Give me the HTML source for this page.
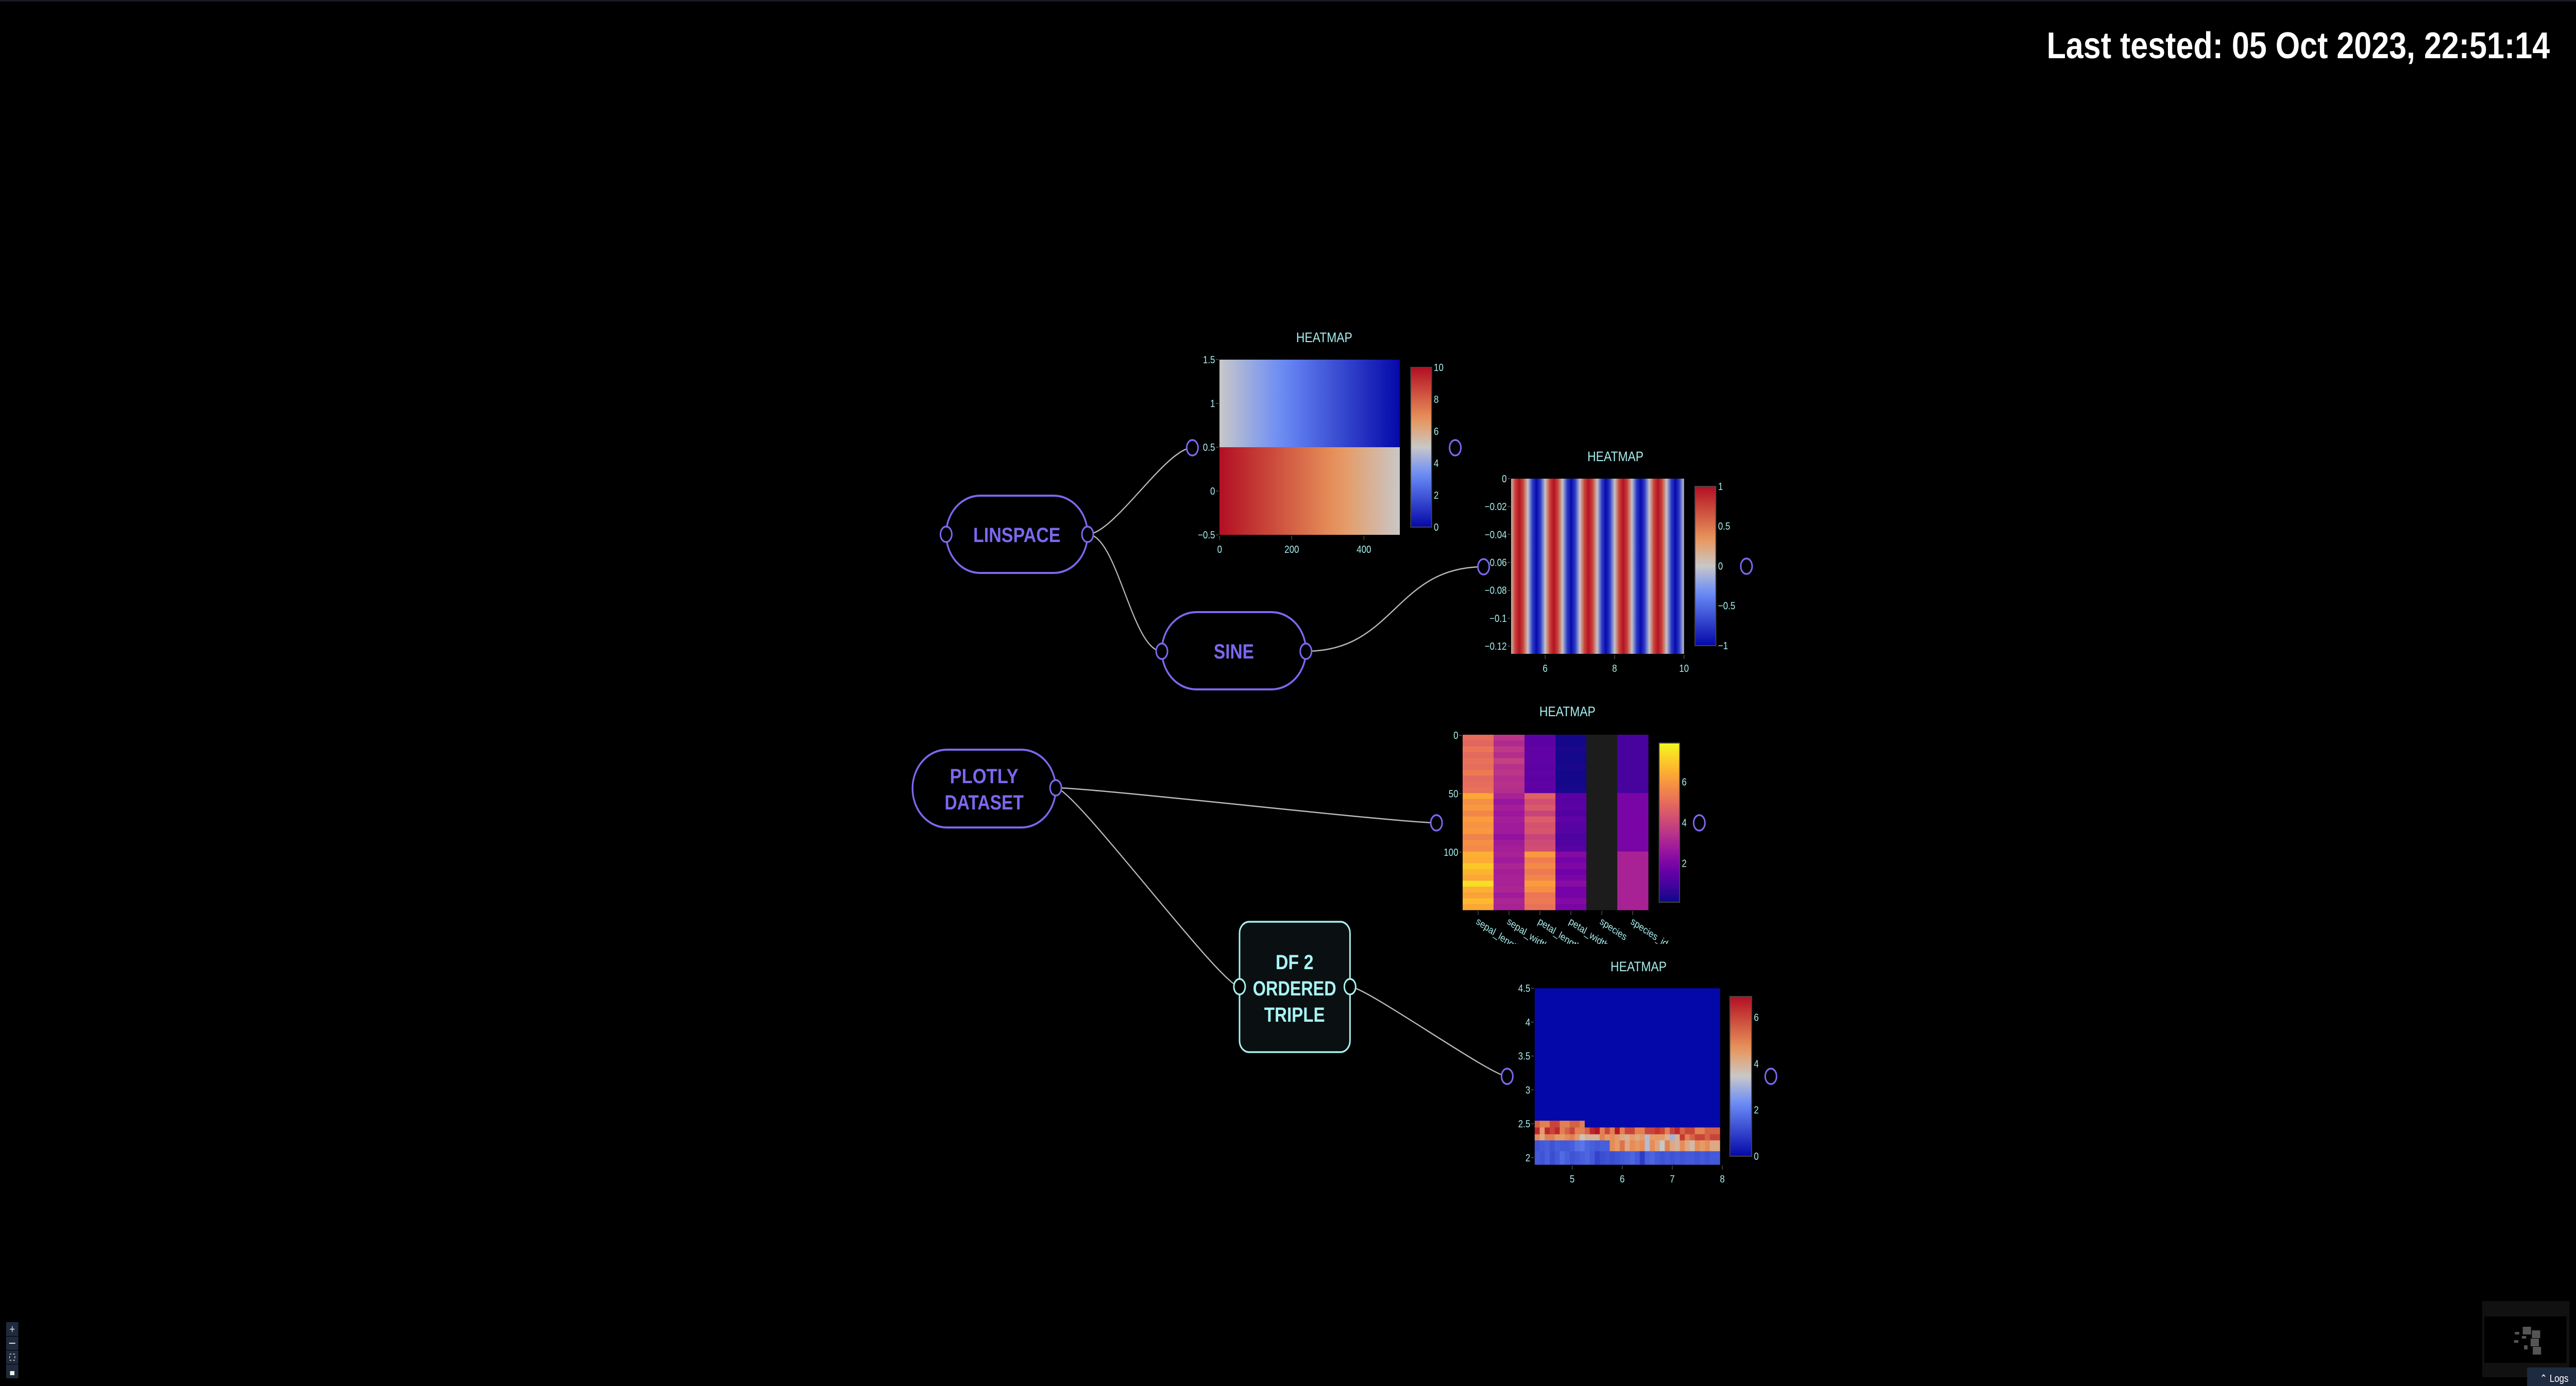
<!DOCTYPE html>
<html><head><meta charset="utf-8"><title>Flow canvas with heatmaps</title>
<style>
html,body{margin:0;padding:0;background:#000;width:100%;height:100%;overflow:hidden}
svg{display:block;position:fixed;left:0;top:0;width:100vw;height:100vh}
.tick{font-family:"Liberation Sans Narrow","Liberation Sans",sans-serif;font-size:20px;fill:#a8eef0}
.ttl{font-family:"Liberation Sans Narrow","Liberation Sans",sans-serif;font-size:27px;fill:#a8eef0}
.node{font-family:"Liberation Sans",sans-serif;font-weight:bold;font-size:40px}
</style></head>
<body>
<svg id="root" viewBox="0 0 5900 2690" preserveAspectRatio="none" xmlns="http://www.w3.org/2000/svg">
<rect x="0" y="0" width="5900" height="2690" fill="#000"/>
<rect x="0" y="0" width="5900" height="3" fill="#1a1a22"/>
<defs id="defs"></defs>
<g id="edges"></g>
<g id="plots"></g>
<g id="nodes"></g>
<text x="5840" y="113" text-anchor="end" font-family="Liberation Sans, sans-serif" font-weight="bold" font-size="72" fill="#fff">Last tested: 05 Oct 2023, 22:51:14</text>
<g>
<rect x="14" y="2566" width="28" height="27" fill="#1f2a3c"/>
<text x="28" y="2587" text-anchor="middle" font-family="Liberation Sans, sans-serif" font-size="22" fill="#ddd">+</text>
<rect x="14" y="2594" width="28" height="26" fill="#1f2a3c"/>
<rect x="21" y="2606" width="14" height="2" fill="#ddd"/>
<rect x="14" y="2621" width="28" height="26" fill="#1f2a3c"/>
<rect x="22" y="2628" width="12" height="12" fill="none" stroke="#ddd" stroke-width="1.5" stroke-dasharray="4 4"/>
<rect x="14" y="2648" width="28" height="27" fill="#1f2a3c"/>
<rect x="23" y="2661" width="10" height="8" fill="#eee"/>
</g>
<g>
<rect x="5685" y="2525" width="200" height="148" fill="#111"/>
<rect x="5690" y="2555" width="188" height="90" fill="#000"/>
<rect x="5778" y="2575" width="19" height="15" fill="#555"/>
<rect x="5799" y="2582" width="19" height="15" fill="#555"/>
<rect x="5796" y="2598" width="19" height="15" fill="#555"/>
<rect x="5801" y="2614" width="19" height="15" fill="#555"/>
<rect x="5760" y="2585" width="10" height="5" fill="#555"/>
<rect x="5776" y="2593" width="10" height="5" fill="#555"/>
<rect x="5758" y="2601" width="10" height="5" fill="#555"/>
<rect x="5781" y="2611" width="8" height="8" fill="#555"/>
</g>
<rect x="5788" y="2654" width="112" height="36" fill="#1e2a3f"/>
<text x="5850" y="2682" text-anchor="middle" font-family="Liberation Sans, sans-serif" font-size="20" fill="#fff">⌃ Logs</text>
</svg>
<script>
// ---------- chart data ----------
const hm1X = [0,50,100,150,200,250,300,350,400,450,500];
const hm1RowY = [0,1];
const hm1Row0 = [10,9.5,9,8.5,8,7.5,7,6.5,6,5.5,5];
const hm1Row1 = [5,4.5,4,3.5,3,2.5,2,1.5,1,0.5,0];
const hm1XTicks = [0,200,400];
const hm1YTicks = [-0.5,0,0.5,1,1.5];
const hm1CbTicks = [0,2,4,6,8,10];

const hm2X = [5,5.125,5.25,5.375,5.5,5.625,5.75,5.875,6,6.125,6.25,6.375,6.5,6.625,6.75,6.875,7,7.125,7.25,7.375,7.5,7.625,7.75,7.875,8,8.125,8.25,8.375,8.5,8.625,8.75,8.875,9,9.125,9.25,9.375,9.5,9.625,9.75,9.875,10];
const hm2Z = [0,0.71,1,0.71,0,-0.71,-1,-0.71,0,0.71,1,0.71,0,-0.71,-1,-0.71,0,0.71,1,0.71,0,-0.71,-1,-0.71,0,0.71,1,0.71,0,-0.71,-1,-0.71,0,0.71,1,0.71,0,-0.71,-1,-0.71,0];
const hm2XTicks = [6,8,10];
const hm2YTicks = [0,-0.02,-0.04,-0.06,-0.08,-0.1,-0.12];
const hm2CbTicks = [-1,-0.5,0,0.5,1];

const hm3Cols = ["sepal_length","sepal_width","petal_length","petal_width","species","species_id"];
const hm3SepalLength = [5.0,4.8,5.2,4.9,5.1,5.0,5.3,4.9,5.0,5.1,6.3,5.8,6.0,5.6,6.1,5.9,6.0,5.5,5.8,5.7,6.5,6.4,7.0,6.6,6.3,7.4,6.5,6.2,6.7,6.3];
const hm3SepalWidth = [3.5,3.2,3.6,3.3,3.8,3.4,3.5,3.3,3.4,3.3,3.0,2.6,2.9,2.7,2.9,2.8,2.8,2.5,2.8,2.9,3.0,2.8,3.1,2.9,3.0,3.0,3.1,2.8,3.1,3.0];
const hm3PetalLength = [1.4,1.4,1.5,1.5,1.5,1.4,1.5,1.4,1.5,1.4,4.7,4.2,4.5,3.9,4.6,4.3,4.4,3.9,4.1,4.2,6.0,5.4,5.7,5.3,5.6,6.1,5.8,5.2,5.3,5.1];
const hm3PetalWidth = [0.2,0.2,0.3,0.2,0.2,0.3,0.2,0.2,0.2,0.3,1.4,1.3,1.4,1.2,1.5,1.3,1.3,1.1,1.2,1.3,2.2,1.9,2.1,1.8,2.0,2.3,1.9,1.9,2.2,2.0];
const hm3Species = [null,null,null,null,null,null,null,null,null,null,null,null,null,null,null,null,null,null,null,null,null,null,null,null,null,null,null,null,null,null];
const hm3SpeciesId = [1,1,1,1,1,1,1,1,1,1,2,2,2,2,2,2,2,2,2,2,3,3,3,3,3,3,3,3,3,3];
const hm3YTicks = [0,50,100];
const hm3CbTicks = [2,4,6];

const hm4X = [4.3,4.4,4.5,4.6,4.7,4.8,4.9,5.0,5.1,5.2,5.3,5.4,5.5,5.6,5.7,5.8,5.9,6.0,6.1,6.2,6.3,6.4,6.5,6.6,6.7,6.8,6.9,7.0,7.1,7.2,7.3,7.4,7.5,7.6,7.7,7.8,7.9];
const hm4YEdges = [1.9,2.1,2.26,2.35,2.45,2.55,4.5];
const hm4Row0 = [1.4,1.3,1.5,1.2,1.4,1.7,1.5,1.3,1.4,1.5,1.6,1.4,1.0,1.2,1.3,1.2,1.3,1.4,1.5,1.6,1.4,0.9,1.5,1.6,1.4,1.3,1.4,1.3,1.4,1.3,1.4,1.4,1.3,1.4,1.3,1.4,1.4];
const hm4Row1 = [1.3,1.4,1.5,1.3,1.5,1.4,1.4,1.5,1.8,1.9,1.6,1.5,1.4,1.5,1.5,4.8,4.5,5.2,4.2,4.8,4.6,4.8,3.2,4.8,4.3,3.5,5,4.2,4,4.8,4.2,3.8,4.8,4.5,4.8,4.2,4.2];
const hm4Row2 = [4.8,4.2,5,5,4.5,4.5,4.8,5,4.5,3.6,4,4,4,5,4.5,4.8,4.5,4.2,4,4.5,4.2,4.5,3.2,4.5,4.5,4.5,4,3,4,6.2,5,5.5,6,6,5.5,6,6];
const hm4Row3 = [6.5,4.5,6.5,6,6.5,5,5.5,6,5,5,5.5,6.5,6.8,5,6,5,6.8,5,6,6,5,5,6,6,6.3,6,5,6,6.5,5.5,6,6,5,5,5.5,5.5,5.5];
const hm4Row4 = [5.5,5,5,6,6,5,5,5.5,5.5,5,0,0,0,0,0,0,0,0,0,0,0,0,0,0,0,0,0,0,0,0,0,0,0,0,0,0,0];
const hm4Row5 = [0,0,0,0,0,0,0,0,0,0,0,0,0,0,0,0,0,0,0,0,0,0,0,0,0,0,0,0,0,0,0,0,0,0,0,0,0];
const hm4XTicks = [5,6,7,8];
const hm4YTicks = [2,2.5,3,3.5,4,4.5];
const hm4CbTicks = [0,2,4,6];

// ---------- helpers ----------
const NS = 'http://www.w3.org/2000/svg';
const defs = document.getElementById('defs');
const gPlots = document.getElementById('plots');
const gEdges = document.getElementById('edges');
const gNodes = document.getElementById('nodes');
let gid = 0;
function mk(tag, attrs, parent){
  const e = document.createElementNS(NS, tag);
  for (const k in attrs) e.setAttribute(k, attrs[k]);
  parent.appendChild(e);
  return e;
}
function hex(c){return [parseInt(c.slice(1,3),16),parseInt(c.slice(3,5),16),parseInt(c.slice(5,7),16)];}
function colorAt(scale, t){
  t = Math.max(0, Math.min(1, t));
  for (let i=0;i<scale.length-1;i++){
    const a=scale[i], b=scale[i+1];
    if (t<=b[0]){
      const f=(t-a[0])/(b[0]-a[0]); const ca=hex(a[1]), cb=hex(b[1]);
      return 'rgb('+ca.map((v,j)=>Math.round(v+(cb[j]-v)*f)).join(',')+')';
    }
  }
  return scale[scale.length-1][1];
}
const coolwarm = [[0,'#0508a8'],[0.33,'#6b8cf7'],[0.5,'#c8c8c8'],[0.67,'#e9965c'],[1,'#b30f23']];
const plasma = [[0,'#0d0887'],[0.111,'#46039f'],[0.222,'#7201a8'],[0.333,'#9c179e'],[0.444,'#bd3786'],[0.556,'#d8576b'],[0.667,'#ed7953'],[0.778,'#fb9f3a'],[0.889,'#fdca26'],[1,'#f0f921']];
function lin(d0,d1,p0,p1){return v=>p0+(v-d0)/(d1-d0)*(p1-p0);}
function hGrad(c1,c2){
  const id='g'+(gid++);
  const g=mk('linearGradient',{id:id,x1:0,y1:0,x2:1,y2:0},defs);
  mk('stop',{offset:0,'stop-color':c1},g); mk('stop',{offset:1,'stop-color':c2},g);
  return 'url(#'+id+')';
}
function clip(x,y,w,h){
  const id='c'+(gid++);
  const c=mk('clipPath',{id:id},defs); mk('rect',{x:x,y:y,width:w,height:h},c);
  return 'url(#'+id+')';
}
function fmt(v){return (v<0?'\u2212':'')+Math.abs(v);}
function yAxis(g, ticks, sy, x){
  ticks.forEach(v=>{
    const l=mk('line',{x1:x-6,x2:x,y1:sy(v),y2:sy(v),stroke:'#555','stroke-width':1.5},g);
    
    
    const t=mk('text',{x:x-8,y:sy(v)+7,'text-anchor':'end','class':'tick'},g);
    t.textContent=fmt(v);
    
    
  });
}
function xAxis(g, ticks, sx, y){
  ticks.forEach(v=>{
    const l=mk('line',{x1:sx(v),x2:sx(v),y1:y,y2:y+8,stroke:'#555','stroke-width':1.5},g);
    
    
    const t=mk('text',{x:sx(v),y:y+33,'text-anchor':'middle','class':'tick'},g);
    t.textContent=fmt(v);
    
    
  });
}
function colorbar(g, x, y, w, h, scale, zmin, zmax, ticks){
  const id='cb'+(gid++);
  const lg=mk('linearGradient',{id:id,x1:0,y1:1,x2:0,y2:0},defs);
  for(let i=0;i<=20;i++){mk('stop',{offset:i/20,'stop-color':colorAt(scale,i/20)},lg);}
  const r=mk('rect',{x:x,y:y,width:w,height:h,fill:'url(#'+id+')',stroke:'#444','stroke-width':2},g);
  
  
  const sy=lin(zmin,zmax,y+h,y);
  ticks.forEach(v=>{
    const t=mk('text',{x:x+w+5,y:sy(v)+7,'class':'tick'},g);
    t.textContent=fmt(v);
    
    
  });
}
function title(g,x,y){
  const t=mk('text',{x:x,y:y,'text-anchor':'middle','class':'ttl'},g);
  t.textContent='HEATMAP';
  
  
}
function port(x,y,stroke){
  const c=mk('ellipse',{cx:x,cy:y,rx:13,ry:15,fill:'#000',stroke:stroke||'#7b68ee','stroke-width':3.5},gNodes);
  
  
}
function edge(x1,y1,x2,y2,k){
  const d=Math.abs(x2-x1)*k;
  const p=mk('path',{d:`M${x1},${y1} C${x1+d},${y1} ${x2-d},${y2} ${x2},${y2}`,fill:'none',stroke:'#bbb','stroke-width':2.5},gEdges);
  
  
}

// ---------- heatmap 1 (linspace) ----------
(function(){
  const g=mk('g',{},gPlots);
  
  
  const L=2793,R=3206,T=698,B=1038;
  const sx=lin(-0.5,499.5,L,R), sy=lin(-0.5,1.5,B,T);
  const cg=mk('g',{'clip-path':clip(L,T,R-L,B-T)},g);
  [hm1Row0,hm1Row1].forEach((row,ri)=>{
    const yc=hm1RowY[ri];
    for(let i=0;i<hm1X.length-1;i++){
      const x0=sx(Math.max(hm1X[i],-0.5)), x1=sx(hm1X[i+1]);
      const r=mk('rect',{x:x0-0.5,y:sy(yc+0.5),width:x1-x0+1,height:sy(yc-0.5)-sy(yc+0.5),fill:hGrad(colorAt(coolwarm,row[i]/10),colorAt(coolwarm,row[i+1]/10))},cg);
      
      
    }
  });
  yAxis(g,hm1YTicks,sy,L-2); xAxis(g,hm1XTicks,sx,B+2);
  colorbar(g,3231,713,48,310,coolwarm,0,10,hm1CbTicks);
  title(g,3033,664);
})();

// ---------- heatmap 2 (sine) ----------
(function(){
  const g=mk('g',{},gPlots);
  
  
  const L=3461,R=3857,T=929,B=1269;
  const sx=lin(5.019,10,L,R), sy=lin(0,-0.1255,T,B);
  const cg=mk('g',{'clip-path':clip(L,T,R-L,B-T)},g);
  for(let i=0;i<hm2X.length-1;i++){
    const x0=sx(hm2X[i]), x1=sx(hm2X[i+1]);
    const r=mk('rect',{x:x0-0.5,y:T,width:x1-x0+1,height:B-T,fill:hGrad(colorAt(coolwarm,(hm2Z[i]+1)/2),colorAt(coolwarm,(hm2Z[i+1]+1)/2))},cg);
    
    
  }
  yAxis(g,hm2YTicks,sy,L-2); xAxis(g,hm2XTicks,sx,B+2);
  colorbar(g,3882,944,48,309,coolwarm,-1,1,hm2CbTicks);
  title(g,3700,895);
})();

// ---------- heatmap 3 (plotly dataset) ----------
(function(){
  const g=mk('g',{},gPlots);
  
  
  const L=3350,R=3775,T=1426,B=1766;
  const zmin=0.1,zmax=7.9;
  const sx=lin(-0.5,hm3Cols.length-0.5,L,R), sy=lin(-0.5,149.5,T,B);
  const cols=[hm3SepalLength,hm3SepalWidth,hm3PetalLength,hm3PetalWidth,hm3Species,hm3SpeciesId];
  cols.forEach((col,ci)=>{
    col.forEach((v,ri)=>{
      const y0=sy(ri*5-0.5), y1=sy(ri*5+4.5);
      const fill = v===null ? '#1c1c1c' : colorAt(plasma,(v-zmin)/(zmax-zmin));
      const r=mk('rect',{x:sx(ci-0.5),y:y0,width:sx(ci+0.5)-sx(ci-0.5)+0.5,height:y1-y0+0.5,fill:fill},g);
      
      
    });
  });
  yAxis(g,hm3YTicks,sy,L-2);
  const lg=mk('g',{'clip-path':clip(3300,1766,600,66)},g);
  hm3Cols.forEach((c,ci)=>{
    const x=sx(ci);
    const l=mk('line',{x1:x,x2:x,y1:B+2,y2:B+10,stroke:'#555','stroke-width':1.5},g);
    
    
    const t=mk('text',{x:x-6,y:B+26,'class':'tick',transform:`rotate(30 ${x-6} ${B+26})`},lg);
    t.textContent=c;
    
    
  });
  colorbar(g,3800,1442,47,309,plasma,zmin,zmax,hm3CbTicks);
  title(g,3590,1390);
})();

// ---------- heatmap 4 (df ordered triple) ----------
(function(){
  const g=mk('g',{},gPlots);
  
  
  const L=3515,R=3939,T=1918,B=2260;
  const zmax=6.9;
  const sx=lin(4.25,7.95,L,R), sy=lin(1.9,4.5,B,T);
  const rows=[hm4Row0,hm4Row1,hm4Row2,hm4Row3,hm4Row4,hm4Row5];
  rows.forEach((row,ri)=>{
    const y0=sy(hm4YEdges[ri+1]), y1=sy(hm4YEdges[ri]);
    row.forEach((v,ci)=>{
      const x0=sx(hm4X[ci]-0.05), x1=sx(hm4X[ci]+0.05);
      const r=mk('rect',{x:x0,y:y0,width:x1-x0+0.6,height:y1-y0+0.6,fill:colorAt(coolwarm,v/zmax)},g);
      
      
    });
  });
  yAxis(g,hm4YTicks,sy,L-2); xAxis(g,hm4XTicks,sx,B+2);
  colorbar(g,3962,1934,50,310,coolwarm,0,zmax,hm4CbTicks);
  title(g,3753,1885);
})();

// ---------- edges ----------
edge(2491,1037,2731,869,0.25);
edge(2491,1037,2661,1264,0.4);
edge(2991,1264,3398,1100,0.5);
edge(2418,1529,3290,1597,0.1);
edge(2418,1529,2839,1915,0.1);
edge(3092,1915,3452,2089,0.1);

// ---------- nodes ----------
function nodeText(x,y,s,len,fill,name){
  const t=mk('text',{x:x,y:y,'text-anchor':'middle','class':'node',fill:fill,textLength:len,lengthAdjust:'spacingAndGlyphs'},gNodes);
  t.textContent=s;
  
  
}
function stadium(x,y,w,h,label,lines,lens){
  const r=mk('rect',{x:x,y:y,width:w,height:h,rx:w*0.24,ry:h*0.5,fill:'#000',stroke:'#7b68ee','stroke-width':4},gNodes);
  
  
  lines.forEach((s,i)=>{
    nodeText(x+w/2,y+h/2+15+(i-(lines.length-1)/2)*51,s,lens[i],'#7b68ee',label+'-label');
  });
}
stadium(2167,962,324,150,'linspace',['LINSPACE'],[200]);
stadium(2661,1188,330,150,'sine',['SINE'],[92]);
stadium(2090,1455,328,151,'plotly-dataset',['PLOTLY','DATASET'],[157,181]);
(function(){
  const r=mk('rect',{x:2839,y:1789,width:253,height:253,rx:22,fill:'#0a1012',stroke:'#a6f0f0','stroke-width':3.5},gNodes);
  
  
  const lines=['DF 2','ORDERED','TRIPLE'], lens=[87,191,139];
  lines.forEach((s,i)=>{
    nodeText(2965,1881+i*51,s,lens[i],'#a8f4f4','df2-ordered-triple-label');
  });
})();
port(2167,1037); port(2491,1037);
port(2661,1264); port(2991,1264);
port(2418,1529);
port(2839,1915,'#a6f0f0'); port(3092,1915,'#a6f0f0');
port(2731,869); port(3333,869);
port(3398,1100); port(4000,1099);
port(3290,1597); port(3892,1597);
port(3452,2089); port(4056,2089);
</script>
</body></html>
